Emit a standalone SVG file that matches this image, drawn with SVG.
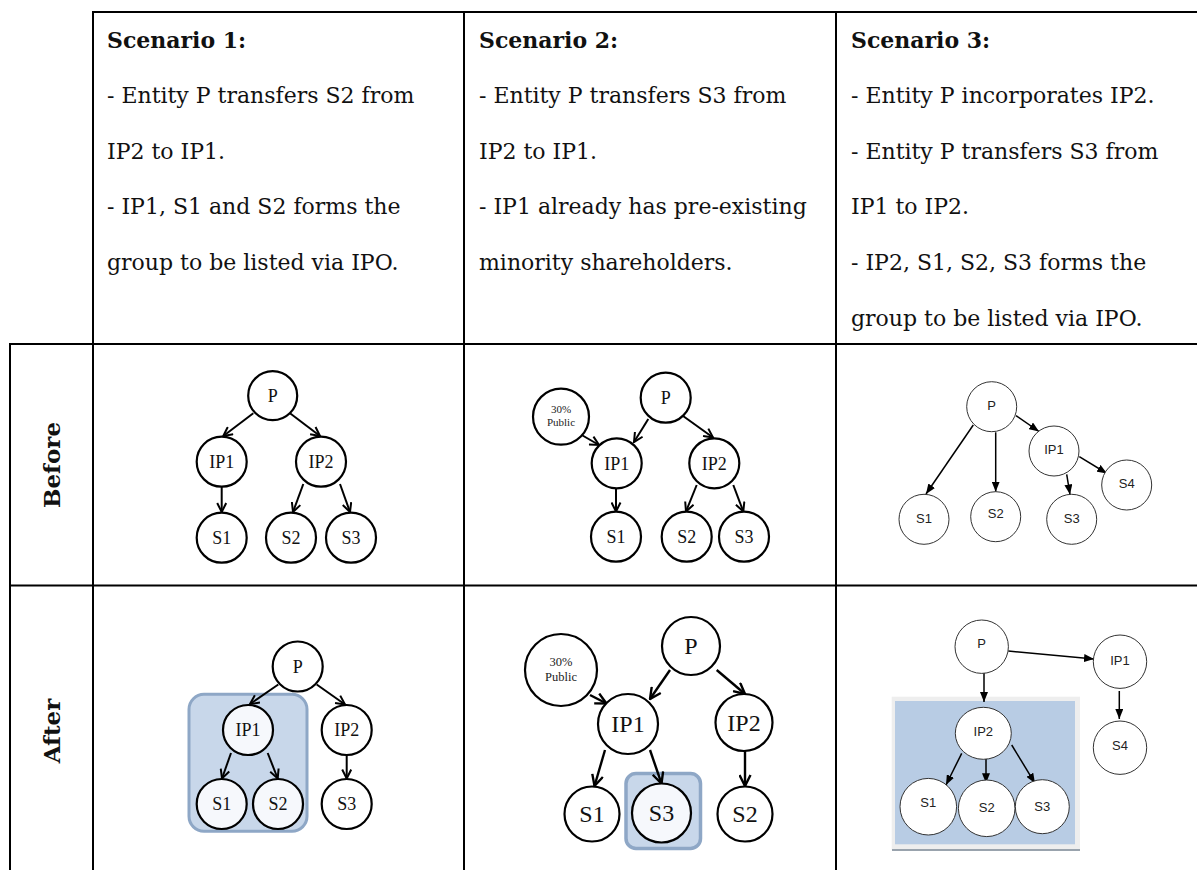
<svg xmlns="http://www.w3.org/2000/svg" width="1197" height="870" viewBox="0 0 1197 870">
<style>
.grid{stroke:#000;stroke-width:2;fill:none}
.hd{font-family:"DejaVu Serif","Liberation Serif",serif;font-size:22px;fill:#111}
.hb{font-weight:bold}
.rl{font-size:23px}
.c{fill:#fff;stroke:#000;stroke-width:2.2}
.cl{fill:#f6f8fc;stroke:#000;stroke-width:2.2}
.c3{fill:#fff;stroke:#333;stroke-width:1}
.t{font-family:"Liberation Serif",serif;font-size:18px;fill:#111;text-anchor:middle}
.tb{font-family:"Liberation Serif",serif;font-size:24px;fill:#111;text-anchor:middle}
.ts{font-family:"Liberation Serif",serif;font-size:11px;fill:#222;text-anchor:middle}
.t3{font-family:"Liberation Sans",Arial,sans-serif;font-size:13px;fill:#222;text-anchor:middle}
.a{stroke:#000;stroke-width:2;fill:none;marker-end:url(#open)}
.ab{stroke:#000;stroke-width:2.4;fill:none;marker-end:url(#openb)}
.a3{stroke:#000;stroke-width:1.5;fill:none;marker-end:url(#tri)}
</style>
<defs>
<marker id="open" viewBox="0 0 11 11" refX="10" refY="5.5" markerWidth="11" markerHeight="11" markerUnits="userSpaceOnUse" orient="auto"><path d="M1,1 L10,5.5 L1,10" fill="none" stroke="#000" stroke-width="2"/></marker>
<marker id="openb" viewBox="0 0 13 13" refX="12" refY="6.5" markerWidth="13" markerHeight="13" markerUnits="userSpaceOnUse" orient="auto"><path d="M1,1 L12,6.5 L1,12" fill="none" stroke="#000" stroke-width="2.4"/></marker>
<marker id="tri" viewBox="0 0 10 8" refX="10" refY="4" markerWidth="10" markerHeight="8" markerUnits="userSpaceOnUse" orient="auto"><path d="M0,0 L10,4 L0,8 z" fill="#000"/></marker>
</defs>
<rect width="1197" height="870" fill="#fff"/>
<g id="table">
<line class="grid" x1="93" y1="12" x2="1197" y2="12"/>
<line class="grid" x1="10" y1="344" x2="1197" y2="344"/>
<line class="grid" x1="10" y1="585.5" x2="1197" y2="585.5"/>
<line class="grid" x1="10" y1="343" x2="10" y2="870"/>
<line class="grid" x1="93" y1="11" x2="93" y2="870"/>
<line class="grid" x1="464" y1="11" x2="464" y2="870"/>
<line class="grid" x1="836" y1="11" x2="836" y2="870"/>
</g>
<g id="header1" class="hd">
<text x="107" y="48" class="hb">Scenario 1:</text>
<text x="107" y="103">- Entity P transfers S2 from</text>
<text x="107" y="159">IP2 to IP1.</text>
<text x="107" y="214">- IP1, S1 and S2 forms the</text>
<text x="107" y="270">group to be listed via IPO.</text>
</g>
<g id="header2" class="hd">
<text x="479" y="48" class="hb">Scenario 2:</text>
<text x="479" y="103">- Entity P transfers S3 from</text>
<text x="479" y="159">IP2 to IP1.</text>
<text x="479" y="214">- IP1 already has pre-existing</text>
<text x="479" y="270">minority shareholders.</text>
</g>
<g id="header3" class="hd">
<text x="851" y="48" class="hb">Scenario 3:</text>
<text x="851" y="103">- Entity P incorporates IP2.</text>
<text x="851" y="159">- Entity P transfers S3 from</text>
<text x="851" y="214">IP1 to IP2.</text>
<text x="851" y="270">- IP2, S1, S2, S3 forms the</text>
<text x="851" y="326">group to be listed via IPO.</text>
</g>
<g id="rowlabels" class="hd hb rl">
<text transform="translate(60,465) rotate(-90)" text-anchor="middle">Before</text>
<text transform="translate(60,731) rotate(-90)" text-anchor="middle">After</text>
</g>

<!-- Before, scenario 1 -->
<g id="b1-connectors">
<line class="a" x1="253.3" y1="413.3" x2="223.3" y2="436"/>
<line class="a" x1="290" y1="413.3" x2="320" y2="436"/>
<line class="a" x1="221.7" y1="486.7" x2="221.7" y2="512"/>
<line class="a" x1="303.3" y1="484" x2="293" y2="512"/>
<line class="a" x1="340" y1="484" x2="350" y2="512"/>
</g>
<g id="b1-P"><circle class="c" cx="272.7" cy="395.7" r="24.5"/><text class="t" x="272.7" y="402">P</text></g>
<g id="b1-IP1"><circle class="c" cx="221.7" cy="461.7" r="25"/><text class="t" x="221.7" y="468">IP1</text></g>
<g id="b1-IP2"><circle class="c" cx="321" cy="461.7" r="25"/><text class="t" x="321" y="468">IP2</text></g>
<g id="b1-S1"><circle class="c" cx="221.7" cy="537.7" r="25"/><text class="t" x="221.7" y="544">S1</text></g>
<g id="b1-S2"><circle class="c" cx="291" cy="537.7" r="25"/><text class="t" x="291" y="544">S2</text></g>
<g id="b1-S3"><circle class="c" cx="351" cy="537.7" r="25"/><text class="t" x="351" y="544">S3</text></g>

<!-- Before, scenario 2 -->
<g id="b2-connectors">
<line class="a" x1="581.7" y1="435" x2="599" y2="445"/>
<line class="a" x1="648.3" y1="419" x2="634" y2="442"/>
<line class="a" x1="682.7" y1="415.7" x2="713" y2="437.5"/>
<line class="a" x1="616" y1="488.3" x2="616" y2="511.5"/>
<line class="a" x1="696.7" y1="485" x2="686" y2="511.5"/>
<line class="a" x1="733.3" y1="485" x2="743.3" y2="511.5"/>
</g>
<g id="b2-Public"><circle class="c" cx="561" cy="416.7" r="28"/><text class="ts" x="561" y="413">30%</text><text class="ts" x="561" y="426">Public</text></g>
<g id="b2-P"><circle class="c" cx="665.7" cy="397.7" r="25"/><text class="t" x="665.7" y="404">P</text></g>
<g id="b2-IP1"><circle class="c" cx="616.7" cy="463.3" r="25"/><text class="t" x="616.7" y="469.6">IP1</text></g>
<g id="b2-IP2"><circle class="c" cx="714.3" cy="463.3" r="25"/><text class="t" x="714.3" y="469.6">IP2</text></g>
<g id="b2-S1"><circle class="c" cx="616" cy="536.7" r="25"/><text class="t" x="616" y="543">S1</text></g>
<g id="b2-S2"><circle class="c" cx="686.7" cy="536.7" r="25"/><text class="t" x="686.7" y="543">S2</text></g>
<g id="b2-S3"><circle class="c" cx="744" cy="536.7" r="25"/><text class="t" x="744" y="543">S3</text></g>

<!-- Before, scenario 3 -->
<g id="b3-connectors">
<line class="a3" x1="973.3" y1="425" x2="926" y2="494"/>
<line class="a3" x1="995.7" y1="432.3" x2="995.7" y2="491.7"/>
<line class="a3" x1="1016" y1="415.7" x2="1039" y2="431.5"/>
<line class="a3" x1="1066.7" y1="474.3" x2="1070" y2="494.5"/>
<line class="a3" x1="1079.3" y1="456.7" x2="1107" y2="473.5"/>
</g>
<g id="b3-P"><circle class="c3" cx="991.7" cy="406.7" r="25"/><text class="t3" x="991.7" y="410">P</text></g>
<g id="b3-IP1"><circle class="c3" cx="1054" cy="451" r="25"/><text class="t3" x="1054" y="454">IP1</text></g>
<g id="b3-S4"><circle class="c3" cx="1126.7" cy="485" r="25"/><text class="t3" x="1126.7" y="488">S4</text></g>
<g id="b3-S1"><circle class="c3" cx="924" cy="519.3" r="25"/><text class="t3" x="924" y="523">S1</text></g>
<g id="b3-S2"><circle class="c3" cx="995.7" cy="516.7" r="25"/><text class="t3" x="995.7" y="518">S2</text></g>
<g id="b3-S3"><circle class="c3" cx="1071.7" cy="519.3" r="25"/><text class="t3" x="1071.7" y="523">S3</text></g>

<!-- After, scenario 1 -->
<g id="a1-group"><rect x="189" y="694.3" width="118" height="137" rx="15" fill="#c8d7ea" stroke="#8ea7c6" stroke-width="3"/></g>
<g id="a1-connectors">
<line class="a" x1="278.3" y1="684.5" x2="250" y2="704"/>
<line class="a" x1="316.7" y1="684.5" x2="345" y2="704.5"/>
<line class="a" x1="231" y1="753" x2="222" y2="778.5"/>
<line class="a" x1="267.7" y1="753" x2="277.7" y2="778.5"/>
<line class="a" x1="346.7" y1="755" x2="346.7" y2="778.5"/>
</g>
<g id="a1-P"><circle class="c" cx="297.7" cy="666.5" r="25"/><text class="t" x="297.7" y="672.8">P</text></g>
<g id="a1-IP1"><circle class="cl" cx="248" cy="730" r="25"/><text class="t" x="248" y="736.3">IP1</text></g>
<g id="a1-IP2"><circle class="c" cx="346.7" cy="730" r="25"/><text class="t" x="346.7" y="736.3">IP2</text></g>
<g id="a1-S1"><circle class="cl" cx="221.7" cy="804" r="25"/><text class="t" x="221.7" y="810.3">S1</text></g>
<g id="a1-S2"><circle class="cl" cx="278" cy="804" r="25"/><text class="t" x="278" y="810.3">S2</text></g>
<g id="a1-S3"><circle class="c" cx="346.7" cy="804" r="25"/><text class="t" x="346.7" y="810.3">S3</text></g>

<!-- After, scenario 2 -->
<g id="a2-group"><rect x="626" y="773.5" width="74.5" height="75" rx="10" fill="#c8d7ea" stroke="#8ea7c6" stroke-width="3.5"/></g>
<g id="a2-connectors">
<line class="ab" x1="590" y1="695" x2="606.5" y2="703.5"/>
<line class="ab" x1="670" y1="670" x2="650" y2="699"/>
<line class="ab" x1="716.7" y1="670" x2="745" y2="694"/>
<line class="ab" x1="605" y1="750" x2="594.5" y2="786"/>
<line class="ab" x1="650" y1="750" x2="661.5" y2="783.5"/>
<line class="ab" x1="745" y1="751" x2="745" y2="786"/>
</g>
<g id="a2-Public"><circle class="c" cx="561" cy="670" r="36"/><text class="ts" x="561" y="666" style="font-size:12.5px">30%</text><text class="ts" x="561" y="681" style="font-size:12.5px">Public</text></g>
<g id="a2-P"><circle class="c" cx="691" cy="646" r="29"/><text class="tb" x="691" y="654.4">P</text></g>
<g id="a2-IP1"><circle class="c" cx="628" cy="724" r="30"/><text class="tb" x="628" y="732.4">IP1</text></g>
<g id="a2-IP2"><circle class="c" cx="744" cy="722.5" r="28.5"/><text class="tb" x="744" y="730.9">IP2</text></g>
<g id="a2-S1"><circle class="c" cx="592" cy="814" r="27.5"/><text class="tb" x="592" y="822.4">S1</text></g>
<g id="a2-S3"><circle class="cl" cx="661.5" cy="813" r="29.5"/><text class="tb" x="661.5" y="821.4">S3</text></g>
<g id="a2-S2"><circle class="c" cx="745" cy="814" r="27.5"/><text class="tb" x="745" y="822.4">S2</text></g>

<!-- After, scenario 3 -->
<g id="a3-group">
<rect x="891.7" y="696.7" width="188.3" height="153.3" fill="#eeeeee"/>
<line x1="892" y1="850" x2="1080" y2="850" stroke="#99a3ad" stroke-width="2"/>
<rect x="895" y="701" width="180" height="143.3" fill="#b8cce4"/>
</g>
<g id="a3-connectors">
<line class="a3" x1="1008.3" y1="651" x2="1094" y2="659"/>
<line class="a3" x1="984" y1="671.7" x2="984" y2="702"/>
<line class="a3" x1="1119.3" y1="691" x2="1119.3" y2="719"/>
<line class="a3" x1="961.7" y1="753.3" x2="946" y2="785"/>
<line class="a3" x1="986" y1="758.3" x2="986" y2="783.3"/>
<line class="a3" x1="1011.7" y1="745" x2="1035" y2="783.3"/>
</g>
<g id="a3-P"><circle class="c3" cx="981.7" cy="646.7" r="26.7"/><text class="t3" x="981.7" y="648">P</text></g>
<g id="a3-IP1"><circle class="c3" cx="1120" cy="661.7" r="26.7"/><text class="t3" x="1120" y="665">IP1</text></g>
<g id="a3-S4"><circle class="c3" cx="1120" cy="747.7" r="26.7"/><text class="t3" x="1120" y="750">S4</text></g>
<g id="a3-IP2"><ellipse class="c3" cx="983.3" cy="733.3" rx="28" ry="26"/><text class="t3" x="983.3" y="736">IP2</text></g>
<g id="a3-S1"><circle class="c3" cx="928.3" cy="806.7" r="28.3"/><text class="t3" x="928.3" y="807">S1</text></g>
<g id="a3-S2"><circle class="c3" cx="986.7" cy="808.3" r="28.3"/><text class="t3" x="986.7" y="812">S2</text></g>
<g id="a3-S3"><circle class="c3" cx="1042.3" cy="806.7" r="27"/><text class="t3" x="1042.3" y="811">S3</text></g>
</svg>
